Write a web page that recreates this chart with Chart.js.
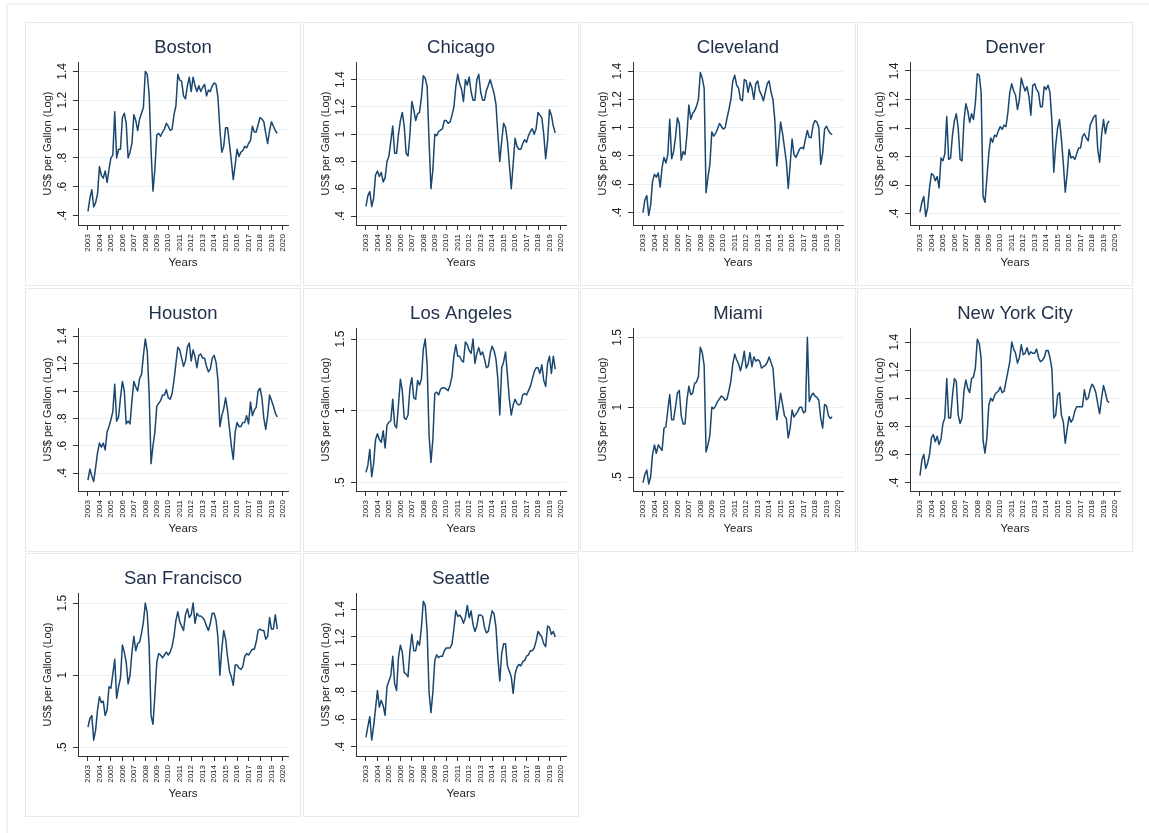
<!DOCTYPE html>
<html>
<head>
<meta charset="utf-8">
<script src="https://cdn.jsdelivr.net/npm/chart.js@4.4.1/dist/chart.umd.min.js"></script>
<style>
  html, body { margin: 0; padding: 0; background: #fff; width: 1149px; height: 833px; overflow: hidden; }
  .frame { position: absolute; left: 6px; top: 3px; width: 1200px; height: 900px; border-left: 2px solid #edf2f2; border-top: 2px solid #edf2f2; }
  .panel { position: absolute; width: 276px; height: 264px; box-shadow: inset 0 0 0 1px #e3ebed; }
  .panel canvas { position: absolute; left: 0; top: 0; }
</style>
</head>
<body>
<div class="frame"></div>
<script>
//// data: log of US$ per gallon, read every two months (2003 to mid 2019)
const periods = [];
for (let k = 0; k < 100; k++) periods.push(2003 + k / 6);

const yearTicks = [2003, 2004, 2005, 2006, 2007, 2008, 2009, 2010, 2011, 2012, 2013, 2014, 2015, 2016, 2017, 2018, 2019, 2020];
const tenthTicks = [0.4, 0.6, 0.8, 1, 1.2, 1.4];
const halfTicks = [0.5, 1, 1.5];

const boston = [
  0.43, 0.52, 0.58, 0.46, 0.49, 0.55,
  0.74, 0.68, 0.66, 0.71, 0.63, 0.72,
  0.80, 0.82, 1.12, 0.80, 0.86, 0.86,
  1.08, 1.11, 1.04, 0.80, 0.84, 0.90,
  1.10, 1.06, 0.99, 1.07, 1.11, 1.15,
  1.40, 1.38, 1.24, 0.85, 0.57, 0.72,
  0.96, 0.97, 0.95, 0.98, 1.00, 1.04,
  1.02, 0.99, 1.00, 1.10, 1.16, 1.38,
  1.34, 1.33, 1.23, 1.21, 1.30, 1.36,
  1.26, 1.36, 1.30, 1.26, 1.30, 1.26,
  1.29, 1.31, 1.23, 1.27, 1.26, 1.30,
  1.32, 1.31, 1.22, 1.00, 0.84, 0.88,
  1.01, 1.01, 0.90, 0.78, 0.65, 0.75,
  0.86, 0.81, 0.84, 0.85, 0.88, 0.87,
  0.90, 0.92, 1.02, 0.98, 0.98, 1.03,
  1.08, 1.07, 1.05, 0.97, 0.90, 0.99,
  1.05, 1.02, 0.99, 0.97
];
const chicago = [
  0.47, 0.55, 0.58, 0.47, 0.53, 0.70,
  0.73, 0.69, 0.72, 0.65, 0.68, 0.80,
  0.84, 0.95, 1.06, 0.86, 0.86, 1.00,
  1.10, 1.16, 1.06, 0.86, 0.84, 1.00,
  1.24, 1.18, 1.10, 1.15, 1.16, 1.27,
  1.43, 1.41, 1.35, 0.95, 0.60, 0.74,
  1.00, 0.99, 1.02, 1.03, 1.04, 1.10,
  1.10, 1.08, 1.09, 1.14, 1.20, 1.35,
  1.44, 1.37, 1.33, 1.24, 1.40, 1.36,
  1.42, 1.31, 1.25, 1.25, 1.40, 1.44,
  1.31, 1.25, 1.25, 1.32, 1.36, 1.40,
  1.35, 1.30, 1.22, 1.00, 0.80, 0.95,
  1.08, 1.05, 0.95, 0.78, 0.60, 0.78,
  0.97, 0.91, 0.89, 0.89, 0.93, 0.96,
  0.94, 0.99, 1.02, 1.04, 1.00, 1.04,
  1.16, 1.14, 1.12, 1.00, 0.82, 0.95,
  1.18, 1.14, 1.06, 1.01
];
const cleveland = [
  0.40, 0.49, 0.52, 0.38, 0.45, 0.62,
  0.67, 0.65, 0.68, 0.58, 0.72, 0.79,
  0.75, 0.81, 1.06, 0.78, 0.83, 0.93,
  1.07, 1.03, 0.77, 0.83, 0.81, 0.95,
  1.16, 1.06, 1.10, 1.12, 1.15, 1.20,
  1.39, 1.35, 1.28, 0.54, 0.65, 0.74,
  0.97, 0.94, 0.96, 0.99, 1.03, 1.01,
  0.99, 1.00, 1.07, 1.13, 1.20, 1.33,
  1.37, 1.30, 1.28, 1.20, 1.19, 1.34,
  1.33, 1.25, 1.32, 1.28, 1.20, 1.31,
  1.33, 1.26, 1.23, 1.19, 1.25, 1.31,
  1.33, 1.25, 1.20, 1.05, 0.73, 0.88,
  1.04, 0.96, 0.86, 0.76, 0.57, 0.74,
  0.92, 0.81, 0.79, 0.82, 0.85, 0.86,
  0.85, 0.92, 0.98, 0.93, 0.93, 1.02,
  1.05, 1.04, 1.00, 0.74, 0.82, 0.99,
  1.01, 0.98, 0.96, 0.95
];
const denver = [
  0.41, 0.48, 0.52, 0.38, 0.44, 0.58,
  0.68, 0.67, 0.63, 0.66, 0.58, 0.79,
  0.77, 0.82, 1.08, 0.78, 0.79, 0.95,
  1.05, 1.10, 1.00, 0.78, 0.77, 1.05,
  1.17, 1.12, 1.04, 1.10, 1.06, 1.18,
  1.38, 1.37, 1.25, 0.52, 0.48, 0.65,
  0.82, 0.93, 0.90, 0.95, 0.94, 0.98,
  1.01, 0.99, 1.02, 1.01, 1.11, 1.25,
  1.31, 1.26, 1.23, 1.13, 1.20, 1.35,
  1.30, 1.26, 1.29, 1.22, 1.09, 1.30,
  1.31, 1.27, 1.25, 1.15, 1.15, 1.29,
  1.27, 1.30, 1.25, 1.05, 0.69, 0.88,
  1.00, 1.06, 0.92, 0.75, 0.55, 0.68,
  0.85, 0.79, 0.80, 0.78, 0.82, 0.86,
  0.86, 0.94, 0.96, 0.93, 0.91, 1.02,
  1.05, 1.08, 1.09, 0.85, 0.76, 0.95,
  1.06, 0.96, 1.03, 1.05
];
const houston = [
  0.35, 0.43, 0.38, 0.34, 0.44, 0.55,
  0.62, 0.59, 0.62, 0.57, 0.70, 0.74,
  0.79, 0.85, 1.05, 0.78, 0.81, 0.95,
  1.07, 1.00, 0.76, 0.78, 0.76, 0.93,
  1.07, 1.03, 1.00, 1.09, 1.12, 1.26,
  1.38, 1.29, 0.98, 0.47, 0.60, 0.70,
  0.89, 0.91, 0.93, 0.97, 0.97, 1.01,
  0.95, 0.94, 0.98, 1.08, 1.20, 1.32,
  1.30, 1.24, 1.18, 1.22, 1.32, 1.35,
  1.22, 1.30, 1.25, 1.17, 1.26, 1.27,
  1.24, 1.24, 1.18, 1.14, 1.16, 1.24,
  1.26, 1.21, 1.08, 0.74, 0.82, 0.87,
  0.95, 0.86, 0.73, 0.60, 0.50, 0.70,
  0.77, 0.74, 0.74, 0.77, 0.77, 0.82,
  0.76, 0.92, 0.82, 0.86, 0.88, 1.00,
  1.02, 0.95, 0.80, 0.72, 0.82, 0.97,
  0.93, 0.89, 0.84, 0.81
];
const losAngeles = [
  0.57, 0.62, 0.73, 0.54, 0.63, 0.80,
  0.84, 0.80, 0.78, 0.86, 0.74, 0.90,
  0.92, 0.93, 1.08, 0.90, 0.88, 1.04,
  1.22, 1.14, 0.95, 0.94, 0.97, 1.16,
  1.23, 1.09, 1.08, 1.21, 1.18, 1.22,
  1.43, 1.50, 1.32, 0.83, 0.64, 0.80,
  1.12, 1.13, 1.11, 1.15, 1.16, 1.16,
  1.15, 1.14, 1.18, 1.24, 1.38, 1.46,
  1.38, 1.38, 1.35, 1.34, 1.48, 1.46,
  1.42, 1.40, 1.50, 1.33, 1.40, 1.44,
  1.39, 1.41, 1.36, 1.30, 1.31, 1.40,
  1.45, 1.42, 1.36, 1.22, 0.97, 1.30,
  1.34, 1.41, 1.25, 1.08, 0.97, 1.04,
  1.08, 1.05, 1.04, 1.05, 1.11, 1.12,
  1.11, 1.14, 1.17, 1.22, 1.27, 1.30,
  1.30, 1.26, 1.32, 1.21, 1.17, 1.33,
  1.38, 1.26, 1.38, 1.29
];
const miami = [
  0.46, 0.52, 0.55, 0.45, 0.50, 0.66,
  0.73, 0.67, 0.73, 0.71, 0.69, 0.85,
  0.86, 0.98, 1.09, 0.91, 0.91, 1.00,
  1.10, 1.12, 0.94, 0.88, 0.88, 1.05,
  1.15, 1.09, 1.10, 1.17, 1.18, 1.22,
  1.43, 1.39, 1.30, 0.68, 0.73, 0.80,
  1.00, 0.99, 1.01, 1.04, 1.06, 1.08,
  1.07, 1.05, 1.06, 1.12, 1.19, 1.31,
  1.38, 1.34, 1.31, 1.26, 1.32, 1.40,
  1.28, 1.31, 1.39, 1.29, 1.36, 1.33,
  1.34, 1.33, 1.28, 1.29, 1.30, 1.32,
  1.36, 1.32, 1.28, 1.10, 0.91, 1.00,
  1.10, 1.02, 0.94, 0.92, 0.78, 0.85,
  0.98, 0.93, 0.95, 0.97, 1.00, 1.00,
  0.96, 0.97, 1.50, 1.04, 1.08, 1.10,
  1.08, 1.07, 1.05, 0.92, 0.85, 1.02,
  1.01, 0.94, 0.92, 0.93
];
const newYorkCity = [
  0.45, 0.56, 0.60, 0.50, 0.54, 0.60,
  0.72, 0.74, 0.69, 0.73, 0.67, 0.71,
  0.82, 0.86, 1.14, 0.86, 0.86, 1.02,
  1.14, 1.12, 0.88, 0.82, 0.86, 1.05,
  1.13, 1.07, 1.04, 1.14, 1.15, 1.22,
  1.42, 1.39, 1.28, 0.70, 0.61, 0.72,
  0.95, 1.00, 0.98, 1.02, 1.04, 1.05,
  1.08, 1.04, 1.05, 1.12, 1.19, 1.26,
  1.40, 1.35, 1.32, 1.25, 1.29, 1.38,
  1.31, 1.32, 1.36, 1.31, 1.33, 1.32,
  1.32, 1.35, 1.29, 1.26, 1.27, 1.29,
  1.34, 1.34, 1.29, 1.21, 0.86, 0.88,
  1.02, 1.04, 0.88, 0.83, 0.68, 0.78,
  0.87, 0.83, 0.85, 0.91, 0.94, 0.94,
  0.94, 0.94, 1.06, 0.99, 1.00, 1.06,
  1.10, 1.08, 1.04, 0.96, 0.89, 1.00,
  1.09, 1.04, 0.98, 0.97
];
const sanFrancisco = [
  0.64, 0.70, 0.72, 0.55, 0.62, 0.76,
  0.85, 0.81, 0.82, 0.72, 0.76, 0.92,
  0.91, 1.01, 1.11, 0.84, 0.92, 0.98,
  1.21, 1.16, 1.09, 0.94, 1.00, 1.16,
  1.27, 1.17, 1.22, 1.23, 1.29, 1.37,
  1.50, 1.43, 1.20, 0.72, 0.66, 0.86,
  1.09, 1.15, 1.14, 1.12, 1.14, 1.16,
  1.14, 1.16, 1.20, 1.27, 1.38, 1.44,
  1.37, 1.34, 1.31, 1.42, 1.46, 1.40,
  1.42, 1.50, 1.36, 1.43, 1.41, 1.41,
  1.40, 1.38, 1.34, 1.31, 1.36, 1.43,
  1.43, 1.38, 1.26, 1.00, 1.18, 1.31,
  1.25, 1.13, 1.03, 0.99, 0.93, 1.07,
  1.07, 1.05, 1.04, 1.06, 1.13, 1.15,
  1.14, 1.16, 1.18, 1.18, 1.23, 1.31,
  1.32, 1.31, 1.31, 1.25, 1.27, 1.40,
  1.32, 1.32, 1.42, 1.32
];
const seattle = [
  0.47, 0.55, 0.62, 0.45, 0.55, 0.68,
  0.81, 0.69, 0.74, 0.70, 0.63, 0.84,
  0.88, 0.92, 1.06, 0.86, 0.81, 1.05,
  1.14, 1.09, 0.94, 0.93, 0.91, 1.10,
  1.22, 1.10, 1.10, 1.17, 1.14, 1.27,
  1.46, 1.43, 1.24, 0.80, 0.65, 0.80,
  1.03, 1.07, 1.05, 1.06, 1.06, 1.10,
  1.12, 1.12, 1.12, 1.15, 1.26, 1.39,
  1.35, 1.36, 1.34, 1.30, 1.34, 1.43,
  1.34, 1.39, 1.29, 1.24, 1.28, 1.36,
  1.36, 1.35, 1.27, 1.23, 1.24, 1.32,
  1.39, 1.37, 1.27, 1.05, 0.88, 1.08,
  1.15, 1.15, 0.99, 0.95, 0.91, 0.79,
  0.93, 0.98, 1.00, 0.99, 1.02, 1.03,
  1.06, 1.07, 1.10, 1.10, 1.12, 1.17,
  1.24, 1.22, 1.20, 1.15, 1.13, 1.28,
  1.27, 1.22, 1.24, 1.20
];

const cities = ['Boston', 'Chicago', 'Cleveland', 'Denver', 'Houston', 'Los Angeles', 'Miami', 'New York City', 'San Francisco', 'Seattle'];
const cityPrices = [boston, chicago, cleveland, denver, houston, losAngeles, miami, newYorkCity, sanFrancisco, seattle];
const cityTicks = [tenthTicks, tenthTicks, tenthTicks, tenthTicks, tenthTicks, halfTicks, halfTicks, tenthTicks, halfTicks, tenthTicks];
const cityRanges = [
  [0.335, 1.465], [0.334, 1.53], [0.312, 1.464], [0.32, 1.463], [0.27, 1.46],
  [0.44, 1.577], [0.40, 1.567], [0.34, 1.50], [0.44, 1.57], [0.334, 1.52]
];

//// layout
const panelLefts = [25, 303, 580, 857];
const panelTops = [22, 288, 553];
const lineColor = '#1a476f';
const axisColor = '#333333';
const gridColor = '#e8eff1';

Chart.defaults.font.family = "'Liberation Sans', Arial, sans-serif";
Chart.defaults.color = '#222222';

function stataLabel(value) {
  const s = String(Math.round(value * 10) / 10);
  return s.startsWith('0.') ? s.slice(1) : s;
}

function drawPanel(name, index) {
  const box = document.createElement('div');
  box.className = 'panel';
  box.style.left = panelLefts[index % 4] + 'px';
  box.style.top = panelTops[Math.floor(index / 4)] + 'px';
  const canvas = document.createElement('canvas');
  canvas.width = 276;
  canvas.height = 264;
  box.appendChild(canvas);
  document.body.appendChild(box);

  const yTicks = cityTicks[index];
  const [yMin, yMax] = cityRanges[index];

  new Chart(canvas, {
    type: 'line',
    data: {
      datasets: [{
        data: cityPrices[index].map((v, k) => ({ x: periods[k], y: v })),
        borderColor: lineColor,
        borderWidth: 1.5,
        borderJoinStyle: 'round',
        pointRadius: 0,
        tension: 0,
        fill: false
      }]
    },
    options: {
      responsive: false,
      animation: false,
      events: [],
      layout: { padding: { left: 0, right: 13, top: 0, bottom: 0 } },
      plugins: {
        legend: { display: false },
        tooltip: { enabled: false },
        title: {
          display: true,
          text: name,
          fullSize: false,
          color: '#22314b',
          font: { size: 18.5, weight: 'normal' },
          padding: { top: 14.6, bottom: 3.2 }
        }
      },
      scales: {
        x: {
          type: 'linear',
          min: 2002.13,
          max: 2020.44,
          afterBuildTicks: (scale) => { scale.ticks = yearTicks.map(v => ({ value: v })); },
          afterFit: (scale) => { scale.height = 61; },
          ticks: {
            autoSkip: false,
            minRotation: 90,
            maxRotation: 90,
            padding: 4,
            font: { size: 8 },
            color: '#222222',
            callback: (value) => String(value)
          },
          grid: { drawOnChartArea: false, drawTicks: true, tickLength: 5, tickColor: axisColor },
          border: { color: axisColor, width: 1 },
          title: { display: true, text: 'Years', font: { size: 11.5 }, color: '#222222', padding: { top: 0, bottom: 16 } }
        },
        y: {
          min: yMin,
          max: yMax,
          afterBuildTicks: (scale) => { scale.ticks = yTicks.map(v => ({ value: v })); },
          afterFit: (scale) => { scale.width = 53; },
          ticks: {
            minRotation: 90,
            maxRotation: 90,
            crossAlign: 'center',
            padding: 2,
            font: { size: 12 },
            color: '#222222',
            callback: (value) => stataLabel(value)
          },
          grid: { color: gridColor, tickLength: 5, tickColor: axisColor },
          border: { color: axisColor, width: 1 },
          title: { display: true, text: 'US$ per Gallon (Log)', font: { size: 11 }, color: '#222222', padding: { top: 16, bottom: 0 } }
        }
      }
    }
  });
}

cities.forEach((name, i) => drawPanel(name, i));
</script>
</body>
</html>
